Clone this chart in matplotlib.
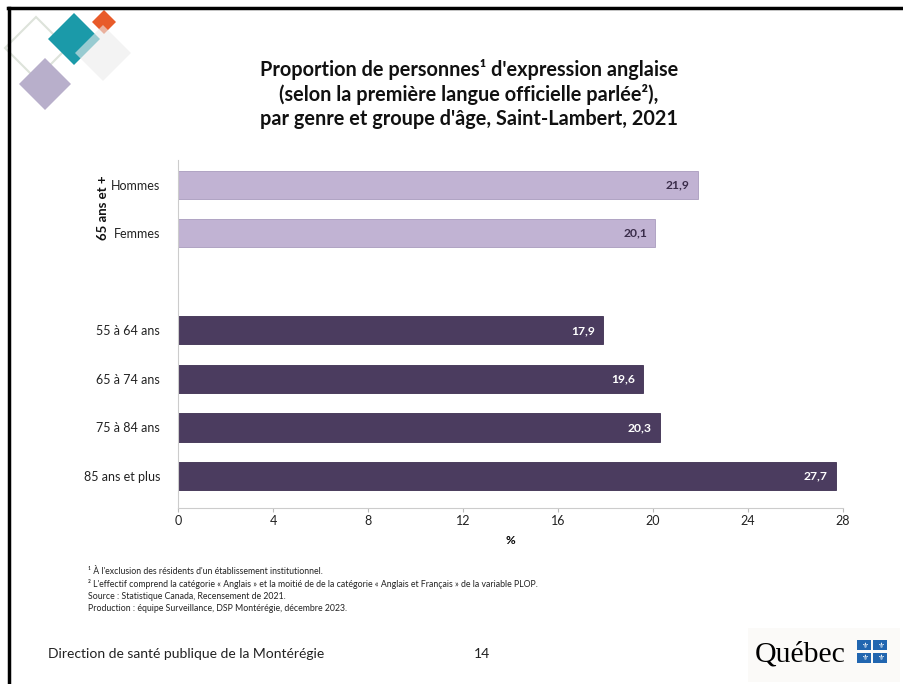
import matplotlib
matplotlib.use("Agg")
import matplotlib.pyplot as plt
from matplotlib.patches import Polygon, Rectangle
from matplotlib.lines import Line2D

plt.rcParams['font.family'] = ['Lato', 'DejaVu Sans']

# ---------------- data ----------------
categories = ["Hommes", "Femmes", "", "55 à 64 ans", "65 à 74 ans", "75 à 84 ans", "85 ans et plus"]
values = [21.9, 20.1, None, 17.9, 19.6, 20.3, 27.7]
value_labels = ["21,9", "20,1", "", "17,9", "19,6", "20,3", "27,7"]
group_label = "65 ans et +"
x_ticks = [0, 4, 8, 12, 16, 20, 24, 28]
x_label = "%"
title = ("Proportion de personnes¹ d'expression anglaise\n"
         "(selon la première langue officielle parlée²),\n"
         "par genre et groupe d'âge, Saint-Lambert, 2021")
notes = ["¹ À l'exclusion des résidents d'un établissement institutionnel.",
         "² L'effectif comprend la catégorie « Anglais » et la moitié de de la catégorie « Anglais et Français » de la variable PLOP.",
         "Source : Statistique Canada, Recensement de 2021.",
         "Production : équipe Surveillance, DSP Montérégie, décembre 2023."]
footer = "Direction de santé publique de la Montérégie"
page = "14"

light = "#c1b3d3"
dark = "#4b3c5f"

W, H = 904, 684
fig = plt.figure(figsize=(W / 100, H / 100), dpi=100)


def fx(px):
    return px / W


def fy(py):
    return 1 - py / H


def diamond(cx, cy, r, **kw):
    pts = [(fx(cx), fy(cy - r)), (fx(cx + r), fy(cy)), (fx(cx), fy(cy + r)), (fx(cx - r), fy(cy))]
    fig.patches.append(Polygon(pts, closed=True, transform=fig.transFigure, **kw))


# slide decorations
diamond(36, 48, 31, facecolor="none", edgecolor="#dde3da", lw=1.5)
diamond(74, 39, 26, facecolor="#1b9aa9", edgecolor="none")
diamond(104, 22, 12, facecolor="#e85b2a", edgecolor="none")
diamond(103, 53, 28, facecolor="#ececec", edgecolor="none", alpha=0.6)
diamond(45, 84, 26, facecolor="#b8afcb", edgecolor="none")

fig.add_artist(Line2D([fx(8), fx(904)], [fy(8), fy(8)], color="black", lw=2.5, transform=fig.transFigure))
fig.add_artist(Line2D([fx(8.5), fx(8.5)], [fy(8), fy(684)], color="black", lw=2.5, transform=fig.transFigure))

# title
fig.text(fx(469), fy(94), title, ha="center", va="center", fontsize=14.3,
         fontweight="bold", linespacing=1.25, color="#111111")

# chart
ax = fig.add_axes([fx(178), fy(508), fx(843) - fx(178), fy(160) - fy(508)])
ypos = list(range(len(categories)))
for i, (v, lab) in enumerate(zip(values, value_labels)):
    if v is None:
        continue
    col = light if i < 2 else dark
    ax.barh(i, v, height=0.58, color=col, edgecolor="#a99cbd" if i < 2 else "#3c2f50", lw=0.6)
    ax.text(v - 0.35, i, lab, ha="right", va="center", fontsize=8.7, fontweight="bold",
            color="#3a2d4a" if i < 2 else "white")

ax.set_ylim(6.66, -0.51)
ax.set_xlim(0, 28)
ax.set_yticks(ypos)
ax.set_yticklabels(categories, fontsize=9, color="#222222")
ax.tick_params(axis="y", length=0, pad=13)
ax.set_xticks(x_ticks)
ax.set_xticklabels([str(t) for t in x_ticks], fontsize=9, color="#222222")
ax.tick_params(axis="x", length=3, color="#bbbbbb", pad=2)
ax.set_xlabel(x_label, fontsize=8.5, fontweight="bold", labelpad=6)
for s in ["top", "right"]:
    ax.spines[s].set_visible(False)
ax.spines["left"].set_color("#cccccc")
ax.spines["bottom"].set_color("#cccccc")

fig.text(fx(103), fy(208), group_label, rotation=90, ha="center", va="center",
         fontsize=9.5, fontweight="bold", color="#111111")

# footnotes
for k, line in enumerate(notes):
    fig.text(fx(88), fy(572 + k * 12.3), line, ha="left", va="center", fontsize=6.3, color="#222222")

fig.text(fx(48), fy(654), footer, ha="left", va="center", fontsize=10, color="#222222")
fig.text(fx(482), fy(654), page, ha="center", va="center", fontsize=10, color="#222222")

# Québec logo
fig.patches.append(Rectangle((fx(748), fy(682)), fx(152), fy(628) - fy(682), transform=fig.transFigure,
                             facecolor="#fbfaf8", edgecolor="none"))
fig.text(fx(755), fy(655), "Québec", ha="left", va="center", fontsize=21.5,
         family=["Liberation Serif", "DejaVu Serif"], color="black")
for (sx, sy) in [(857, 640), (873, 640), (857, 653), (873, 653)]:
    fig.patches.append(Rectangle((fx(sx), fy(sy + 10)), fx(14), fy(sy) - fy(sy + 10), transform=fig.transFigure,
                                 facecolor="#2166b0", edgecolor="none"))
    fig.text(fx(sx + 7), fy(sy + 5), "⚜", ha="center", va="center", fontsize=5.5,
             family=["DejaVu Sans"], color="white")

fig.savefig("out.png", dpi=100)
